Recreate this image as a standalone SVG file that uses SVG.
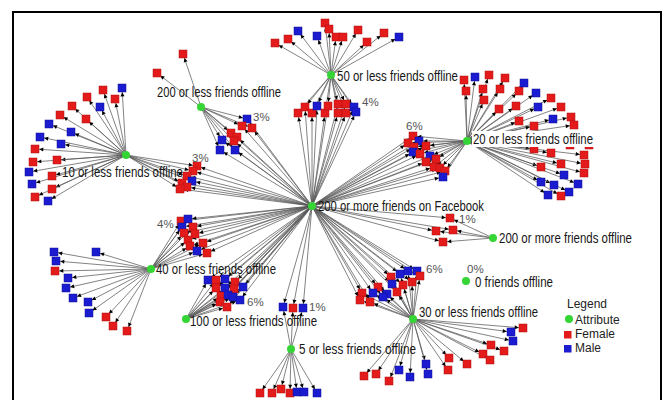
<svg xmlns="http://www.w3.org/2000/svg" xmlns:xlink="http://www.w3.org/1999/xlink" width="662" height="400" viewBox="0 0 662 400">
<style>
.e path{stroke:#5a5a5a;stroke-width:.75;fill:none;marker-end:url(#ah)}
.hub circle{fill:#36d536}
.lbl{font-family:"Liberation Sans",Arial,sans-serif;font-size:15.5px;fill:#161616}
.pc{font-family:"Liberation Sans",Arial,sans-serif;font-size:11.5px;fill:#555}
.lg{font-family:"Liberation Sans",Arial,sans-serif;font-size:12px;fill:#222}
</style>
<defs>
<marker id="ah" markerUnits="userSpaceOnUse" markerWidth="10" markerHeight="10" orient="auto" overflow="visible" refX="0" refY="0"><path d="M-4.3,0L-8.3,-2L-8.3,2Z" fill="#000"/></marker>
<rect id="r" x="-4" y="-4" width="8" height="8" fill="#e31b1b" stroke="#b01010" stroke-width=".5"/>
<rect id="b" x="-4" y="-4" width="8" height="8" fill="#1b1bd0" stroke="#10109a" stroke-width=".5"/>
</defs>
<rect width="662" height="400" fill="#fff"/>
<path d="M13 401V12H661V401" fill="none" stroke="#000" stroke-width="2"/>
<g id="connectors" class="e">
<path d="M126 155L103 90"/><path d="M126 155L122 88"/><path d="M126 155L87 97"/><path d="M126 155L115 99"/><path d="M126 155L72 106"/><path d="M126 155L100 107"/><path d="M126 155L60 115"/><path d="M126 155L86 119"/><path d="M126 155L49 124"/><path d="M126 155L71 132"/><path d="M126 155L40 137"/><path d="M126 155L61 144"/><path d="M126 155L35 149"/><path d="M126 155L57 160"/><path d="M126 155L33 162"/><path d="M126 155L29 172"/><path d="M126 155L52 176"/><path d="M126 155L32 184"/><path d="M126 155L52 189"/><path d="M126 155L35 197"/><path d="M126 155L48 201"/>
<path d="M126 155L197 166"/><path d="M126 155L193 171"/><path d="M126 155L187 176"/><path d="M126 155L192 181"/><path d="M126 155L182 183"/><path d="M126 155L187 187"/><path d="M126 155L180 189"/>
<path d="M201 107L183 54"/><path d="M201 107L157 73"/>
<path d="M201 107L247 119"/><path d="M201 107L242 126"/><path d="M201 107L252 128"/><path d="M201 107L231 133"/><path d="M201 107L237 137"/><path d="M201 107L234 141"/><path d="M201 107L222 140"/><path d="M201 107L220 150"/><path d="M201 107L235 150"/>
<path d="M331 75L275 43"/><path d="M331 75L288 39"/><path d="M331 75L298 31"/><path d="M331 75L317 36"/><path d="M331 75L325 23"/><path d="M331 75L329 29"/><path d="M331 75L336 37"/><path d="M331 75L343 37"/><path d="M331 75L358 30"/><path d="M331 75L367 42"/><path d="M331 75L384 33"/><path d="M331 75L399 37"/>
<path d="M331 75L298 113"/><path d="M331 75L305 107"/><path d="M331 75L312 113"/><path d="M331 75L317 106"/><path d="M331 75L325 113"/><path d="M331 75L328 106"/><path d="M331 75L338 104"/><path d="M331 75L338 113"/><path d="M331 75L346 104"/><path d="M331 75L346 113"/><path d="M331 75L354 107"/><path d="M331 75L356 112"/>
<path d="M467 141L464 80"/><path d="M467 141L475 77"/><path d="M467 141L489 75"/><path d="M467 141L505 78"/><path d="M467 141L466 91"/><path d="M467 141L483 89"/><path d="M467 141L484 100"/><path d="M467 141L500 89"/><path d="M467 141L519 91"/><path d="M467 141L524 83"/><path d="M467 141L499 109"/><path d="M467 141L516 106"/><path d="M467 141L536 93"/><path d="M467 141L551 98"/><path d="M467 141L538 107"/><path d="M467 141L561 107"/><path d="M467 141L519 121"/><path d="M467 141L553 119"/><path d="M467 141L571 117"/><path d="M467 141L574 125"/><path d="M467 141L534 126"/><path d="M467 141L570 145"/><path d="M467 141L589 145"/><path d="M467 141L534 149"/><path d="M467 141L551 153"/><path d="M467 141L541 167"/><path d="M467 141L561 164"/><path d="M467 141L584 155"/><path d="M467 141L585 164"/><path d="M467 141L584 173"/><path d="M467 141L564 175"/><path d="M467 141L541 182"/><path d="M467 141L554 185"/><path d="M467 141L578 184"/><path d="M467 141L569 192"/><path d="M467 141L548 195"/><path d="M467 141L561 196"/>
<path d="M467 141L413 136"/><path d="M467 141L419 141"/><path d="M467 141L408 143"/><path d="M467 141L414 147"/><path d="M467 141L426 146"/><path d="M467 141L413 152"/><path d="M467 141L420 154"/><path d="M467 141L430 156"/><path d="M467 141L426 162"/><path d="M467 141L436 159"/><path d="M467 141L434 167"/><path d="M467 141L440 168"/><path d="M467 141L445 171"/><path d="M467 141L443 177"/>
<path d="M151 269L54 252"/><path d="M151 269L96 252"/><path d="M151 269L56 261"/><path d="M151 269L55 271"/><path d="M151 269L68 278"/><path d="M151 269L66 288"/><path d="M151 269L73 298"/><path d="M151 269L88 302"/><path d="M151 269L89 313"/><path d="M151 269L106 317"/><path d="M151 269L113 326"/><path d="M151 269L127 331"/>
<path d="M151 269L181 221"/><path d="M151 269L188 219"/><path d="M151 269L182 227"/><path d="M151 269L193 227"/><path d="M151 269L184 233"/><path d="M151 269L195 234"/><path d="M151 269L188 240"/><path d="M151 269L203 243"/><path d="M151 269L190 246"/><path d="M151 269L197 251"/><path d="M151 269L207 253"/>
<path d="M186 319L208 280"/><path d="M186 319L216 280"/><path d="M186 319L225 279"/><path d="M186 319L235 282"/><path d="M186 319L243 287"/><path d="M186 319L216 288"/><path d="M186 319L225 288"/><path d="M186 319L234 289"/><path d="M186 319L221 296"/><path d="M186 319L228 295"/><path d="M186 319L233 297"/><path d="M186 319L240 300"/><path d="M186 319L220 302"/><path d="M186 319L227 307"/>
<path d="M291 349L260 393"/><path d="M291 349L272 393"/><path d="M291 349L281 389"/><path d="M291 349L290 393"/><path d="M291 349L297 392"/><path d="M291 349L304 392"/><path d="M291 349L317 393"/>
<path d="M291 349L283 307"/><path d="M291 349L293 308"/><path d="M291 349L303 308"/>
<path d="M413 319L523 328"/><path d="M413 319L511 332"/><path d="M413 319L513 341"/><path d="M413 319L491 345"/><path d="M413 319L504 351"/><path d="M413 319L483 354"/><path d="M413 319L490 360"/><path d="M413 319L467 364"/><path d="M413 319L449 358"/><path d="M413 319L448 370"/><path d="M413 319L426 364"/><path d="M413 319L428 374"/><path d="M413 319L410 377"/><path d="M413 319L399 370"/><path d="M413 319L389 381"/><path d="M413 319L376 374"/><path d="M413 319L364 376"/>
<path d="M413 319L408 271"/><path d="M413 319L417 271"/><path d="M413 319L420 276"/><path d="M413 319L400 274"/><path d="M413 319L391 277"/><path d="M413 319L412 282"/><path d="M413 319L403 285"/><path d="M413 319L392 284"/><path d="M413 319L378 287"/><path d="M413 319L397 292"/><path d="M413 319L387 294"/><path d="M413 319L373 293"/><path d="M413 319L383 297"/><path d="M413 319L362 293"/><path d="M413 319L360 300"/><path d="M413 319L370 302"/>
<path d="M493 238L450 218"/><path d="M493 238L436 231"/><path d="M493 238L453 230"/><path d="M493 238L443 242"/>
<path d="M312 206L197 166"/><path d="M312 206L193 171"/><path d="M312 206L187 176"/><path d="M312 206L192 181"/><path d="M312 206L182 183"/><path d="M312 206L187 187"/><path d="M312 206L180 189"/>
<path d="M312 206L247 119"/><path d="M312 206L242 126"/><path d="M312 206L252 128"/><path d="M312 206L231 133"/><path d="M312 206L237 137"/><path d="M312 206L234 141"/><path d="M312 206L222 140"/><path d="M312 206L220 150"/><path d="M312 206L235 150"/>
<path d="M312 206L298 113"/><path d="M312 206L305 107"/><path d="M312 206L312 113"/><path d="M312 206L317 106"/><path d="M312 206L325 113"/><path d="M312 206L328 106"/><path d="M312 206L338 104"/><path d="M312 206L338 113"/><path d="M312 206L346 104"/><path d="M312 206L346 113"/><path d="M312 206L354 107"/><path d="M312 206L356 112"/>
<path d="M312 206L413 136"/><path d="M312 206L419 141"/><path d="M312 206L408 143"/><path d="M312 206L414 147"/><path d="M312 206L426 146"/><path d="M312 206L413 152"/><path d="M312 206L420 154"/><path d="M312 206L430 156"/><path d="M312 206L426 162"/><path d="M312 206L436 159"/><path d="M312 206L434 167"/><path d="M312 206L440 168"/><path d="M312 206L445 171"/><path d="M312 206L443 177"/>
<path d="M312 206L181 221"/><path d="M312 206L188 219"/><path d="M312 206L182 227"/><path d="M312 206L193 227"/><path d="M312 206L184 233"/><path d="M312 206L195 234"/><path d="M312 206L188 240"/><path d="M312 206L203 243"/><path d="M312 206L190 246"/><path d="M312 206L197 251"/><path d="M312 206L207 253"/>
<path d="M312 206L208 280"/><path d="M312 206L216 280"/><path d="M312 206L225 279"/><path d="M312 206L235 282"/><path d="M312 206L243 287"/><path d="M312 206L216 288"/><path d="M312 206L225 288"/><path d="M312 206L234 289"/><path d="M312 206L221 296"/><path d="M312 206L228 295"/><path d="M312 206L233 297"/><path d="M312 206L240 300"/><path d="M312 206L220 302"/><path d="M312 206L227 307"/>
<path d="M312 206L283 307"/><path d="M312 206L293 308"/><path d="M312 206L303 308"/>
<path d="M312 206L450 218"/><path d="M312 206L436 231"/><path d="M312 206L453 230"/><path d="M312 206L443 242"/>
<path d="M312 206L408 271"/><path d="M312 206L417 271"/><path d="M312 206L420 276"/><path d="M312 206L400 274"/><path d="M312 206L391 277"/><path d="M312 206L412 282"/><path d="M312 206L403 285"/><path d="M312 206L392 284"/><path d="M312 206L378 287"/><path d="M312 206L397 292"/><path d="M312 206L387 294"/><path d="M312 206L373 293"/><path d="M312 206L383 297"/><path d="M312 206L362 293"/><path d="M312 206L360 300"/><path d="M312 206L370 302"/>
</g>
<g id="fan-10">
<use id="n10-1" href="#r" x="103" y="90"/><use id="n10-2" href="#b" x="122" y="88"/><use id="n10-3" href="#r" x="87" y="97"/><use id="n10-4" href="#r" x="115" y="99"/><use id="n10-5" href="#r" x="72" y="106"/><use id="n10-6" href="#b" x="100" y="107"/><use id="n10-7" href="#r" x="60" y="115"/><use id="n10-8" href="#r" x="86" y="119"/><use id="n10-9" href="#b" x="49" y="124"/><use id="n10-10" href="#b" x="71" y="132"/><use id="n10-11" href="#b" x="40" y="137"/><use id="n10-12" href="#b" x="61" y="144"/><use id="n10-13" href="#r" x="35" y="149"/><use id="n10-14" href="#r" x="57" y="160"/><use id="n10-15" href="#r" x="33" y="162"/><use id="n10-16" href="#b" x="29" y="172"/><use id="n10-17" href="#r" x="52" y="176"/><use id="n10-18" href="#b" x="32" y="184"/><use id="n10-19" href="#r" x="52" y="189"/><use id="n10-20" href="#r" x="35" y="197"/><use id="n10-21" href="#b" x="48" y="201"/>
</g>
<g id="cluster-10">
<use id="c10-1" href="#r" x="197" y="166"/><use id="c10-2" href="#r" x="193" y="171"/><use id="c10-3" href="#r" x="187" y="176"/><use id="c10-4" href="#b" x="192" y="181"/><use id="c10-5" href="#r" x="182" y="183"/><use id="c10-6" href="#r" x="187" y="187"/><use id="c10-7" href="#r" x="180" y="189"/>
</g>
<g id="fan-200less">
<use id="n200l-1" href="#r" x="183" y="54"/><use id="n200l-2" href="#r" x="157" y="73"/>
</g>
<g id="cluster-200less">
<use id="c200l-1" href="#b" x="247" y="119"/><use id="c200l-2" href="#r" x="242" y="126"/><use id="c200l-3" href="#r" x="252" y="128"/><use id="c200l-4" href="#r" x="231" y="133"/><use id="c200l-5" href="#r" x="237" y="137"/><use id="c200l-6" href="#r" x="234" y="141"/><use id="c200l-7" href="#b" x="222" y="140"/><use id="c200l-8" href="#b" x="220" y="150"/><use id="c200l-9" href="#b" x="235" y="150"/>
</g>
<g id="fan-50">
<use id="n50-1" href="#r" x="275" y="43"/><use id="n50-2" href="#r" x="288" y="39"/><use id="n50-3" href="#b" x="298" y="31"/><use id="n50-4" href="#b" x="317" y="36"/><use id="n50-5" href="#r" x="325" y="23"/><use id="n50-6" href="#r" x="329" y="29"/><use id="n50-7" href="#r" x="336" y="37"/><use id="n50-8" href="#r" x="343" y="37"/><use id="n50-9" href="#r" x="358" y="30"/><use id="n50-10" href="#r" x="367" y="42"/><use id="n50-11" href="#r" x="384" y="33"/><use id="n50-12" href="#b" x="399" y="37"/>
</g>
<g id="cluster-50">
<use id="c50-1" href="#r" x="298" y="113"/><use id="c50-2" href="#r" x="305" y="107"/><use id="c50-3" href="#r" x="312" y="113"/><use id="c50-4" href="#b" x="317" y="106"/><use id="c50-5" href="#r" x="325" y="113"/><use id="c50-6" href="#r" x="328" y="106"/><use id="c50-7" href="#r" x="338" y="104"/><use id="c50-8" href="#r" x="338" y="113"/><use id="c50-9" href="#r" x="346" y="104"/><use id="c50-10" href="#r" x="346" y="113"/><use id="c50-11" href="#b" x="354" y="107"/><use id="c50-12" href="#b" x="356" y="112"/>
</g>
<g id="fan-20">
<use id="n20-1" href="#r" x="464" y="80"/><use id="n20-2" href="#b" x="475" y="77"/><use id="n20-3" href="#r" x="489" y="75"/><use id="n20-4" href="#r" x="505" y="78"/><use id="n20-5" href="#r" x="466" y="91"/><use id="n20-6" href="#r" x="483" y="89"/><use id="n20-7" href="#r" x="484" y="100"/><use id="n20-8" href="#r" x="500" y="89"/><use id="n20-9" href="#r" x="519" y="91"/><use id="n20-10" href="#b" x="524" y="83"/><use id="n20-11" href="#r" x="499" y="109"/><use id="n20-12" href="#r" x="516" y="106"/><use id="n20-13" href="#b" x="536" y="93"/><use id="n20-14" href="#r" x="551" y="98"/><use id="n20-15" href="#b" x="538" y="107"/><use id="n20-16" href="#r" x="561" y="107"/><use id="n20-17" href="#r" x="519" y="121"/><use id="n20-18" href="#b" x="553" y="119"/><use id="n20-19" href="#r" x="571" y="117"/><use id="n20-20" href="#r" x="574" y="125"/><use id="n20-21" href="#r" x="534" y="126"/><use id="n20-22" href="#r" x="570" y="145"/><use id="n20-23" href="#r" x="589" y="145"/><use id="n20-24" href="#r" x="534" y="149"/><use id="n20-25" href="#r" x="551" y="153"/><use id="n20-26" href="#r" x="541" y="167"/><use id="n20-27" href="#r" x="561" y="164"/><use id="n20-28" href="#r" x="584" y="155"/><use id="n20-29" href="#r" x="585" y="164"/><use id="n20-30" href="#r" x="584" y="173"/><use id="n20-31" href="#b" x="564" y="175"/><use id="n20-32" href="#b" x="541" y="182"/><use id="n20-33" href="#b" x="554" y="185"/><use id="n20-34" href="#b" x="578" y="184"/><use id="n20-35" href="#b" x="569" y="192"/><use id="n20-36" href="#b" x="548" y="195"/><use id="n20-37" href="#r" x="561" y="196"/>
</g>
<g id="cluster-20">
<use id="c20-1" href="#r" x="413" y="136"/><use id="c20-2" href="#b" x="419" y="141"/><use id="c20-3" href="#r" x="408" y="143"/><use id="c20-4" href="#r" x="414" y="147"/><use id="c20-5" href="#r" x="426" y="146"/><use id="c20-6" href="#b" x="413" y="152"/><use id="c20-7" href="#r" x="420" y="154"/><use id="c20-8" href="#b" x="430" y="156"/><use id="c20-9" href="#r" x="426" y="162"/><use id="c20-10" href="#r" x="436" y="159"/><use id="c20-11" href="#r" x="434" y="167"/><use id="c20-12" href="#r" x="440" y="168"/><use id="c20-13" href="#r" x="445" y="171"/><use id="c20-14" href="#b" x="443" y="177"/>
</g>
<g id="fan-40">
<use id="n40-1" href="#b" x="54" y="252"/><use id="n40-2" href="#b" x="96" y="252"/><use id="n40-3" href="#b" x="56" y="261"/><use id="n40-4" href="#r" x="55" y="271"/><use id="n40-5" href="#b" x="68" y="278"/><use id="n40-6" href="#b" x="66" y="288"/><use id="n40-7" href="#b" x="73" y="298"/><use id="n40-8" href="#b" x="88" y="302"/><use id="n40-9" href="#b" x="89" y="313"/><use id="n40-10" href="#r" x="106" y="317"/><use id="n40-11" href="#r" x="113" y="326"/><use id="n40-12" href="#r" x="127" y="331"/>
</g>
<g id="cluster-40">
<use id="c40-1" href="#r" x="181" y="221"/><use id="c40-2" href="#b" x="188" y="219"/><use id="c40-3" href="#b" x="182" y="227"/><use id="c40-4" href="#r" x="193" y="227"/><use id="c40-5" href="#r" x="184" y="233"/><use id="c40-6" href="#r" x="195" y="234"/><use id="c40-7" href="#r" x="188" y="240"/><use id="c40-8" href="#r" x="203" y="243"/><use id="c40-9" href="#r" x="190" y="246"/><use id="c40-10" href="#b" x="197" y="251"/><use id="c40-11" href="#r" x="207" y="253"/>
</g>
<g id="cluster-100">
<use id="c100-1" href="#b" x="208" y="280"/><use id="c100-2" href="#r" x="216" y="280"/><use id="c100-3" href="#b" x="225" y="279"/><use id="c100-4" href="#r" x="235" y="282"/><use id="c100-5" href="#b" x="243" y="287"/><use id="c100-6" href="#r" x="216" y="288"/><use id="c100-7" href="#b" x="225" y="288"/><use id="c100-8" href="#r" x="234" y="289"/><use id="c100-9" href="#r" x="221" y="296"/><use id="c100-10" href="#b" x="228" y="295"/><use id="c100-11" href="#b" x="233" y="297"/><use id="c100-12" href="#b" x="240" y="300"/><use id="c100-13" href="#r" x="220" y="302"/><use id="c100-14" href="#r" x="227" y="307"/>
</g>
<g id="fan-5">
<use id="n5-1" href="#r" x="260" y="393"/><use id="n5-2" href="#r" x="272" y="393"/><use id="n5-3" href="#r" x="281" y="389"/><use id="n5-4" href="#r" x="290" y="393"/><use id="n5-5" href="#b" x="297" y="392"/><use id="n5-6" href="#b" x="304" y="392"/><use id="n5-7" href="#b" x="317" y="393"/>
</g>
<g id="cluster-5">
<use id="c5-1" href="#b" x="283" y="307"/><use id="c5-2" href="#r" x="293" y="308"/><use id="c5-3" href="#b" x="303" y="308"/>
</g>
<g id="fan-30">
<use id="n30-1" href="#r" x="523" y="328"/><use id="n30-2" href="#b" x="511" y="332"/><use id="n30-3" href="#b" x="513" y="341"/><use id="n30-4" href="#r" x="491" y="345"/><use id="n30-5" href="#r" x="504" y="351"/><use id="n30-6" href="#r" x="483" y="354"/><use id="n30-7" href="#r" x="490" y="360"/><use id="n30-8" href="#r" x="467" y="364"/><use id="n30-9" href="#r" x="449" y="358"/><use id="n30-10" href="#r" x="448" y="370"/><use id="n30-11" href="#b" x="426" y="364"/><use id="n30-12" href="#b" x="428" y="374"/><use id="n30-13" href="#b" x="410" y="377"/><use id="n30-14" href="#b" x="399" y="370"/><use id="n30-15" href="#r" x="389" y="381"/><use id="n30-16" href="#r" x="376" y="374"/><use id="n30-17" href="#r" x="364" y="376"/>
</g>
<g id="cluster-30">
<use id="c30-1" href="#b" x="408" y="271"/><use id="c30-2" href="#b" x="417" y="271"/><use id="c30-3" href="#r" x="420" y="276"/><use id="c30-4" href="#b" x="400" y="274"/><use id="c30-5" href="#r" x="391" y="277"/><use id="c30-6" href="#r" x="412" y="282"/><use id="c30-7" href="#r" x="403" y="285"/><use id="c30-8" href="#b" x="392" y="284"/><use id="c30-9" href="#r" x="378" y="287"/><use id="c30-10" href="#r" x="397" y="292"/><use id="c30-11" href="#b" x="387" y="294"/><use id="c30-12" href="#b" x="373" y="293"/><use id="c30-13" href="#b" x="383" y="297"/><use id="c30-14" href="#r" x="362" y="293"/><use id="c30-15" href="#r" x="360" y="300"/><use id="c30-16" href="#r" x="370" y="302"/>
</g>
<g id="cluster-200more">
<use id="c200m-1" href="#r" x="450" y="218"/><use id="c200m-2" href="#r" x="436" y="231"/><use id="c200m-3" href="#r" x="453" y="230"/><use id="c200m-4" href="#r" x="443" y="242"/>
</g>
<g id="hub-facebook" class="hub"><circle cx="312" cy="206" r="4"/><text class="lbl" x="318" y="211" textLength="166" lengthAdjust="spacingAndGlyphs">200 or more friends on Facebook</text></g>
<g id="hub-50" class="hub"><circle cx="331" cy="75" r="4"/><text class="lbl" x="337" y="81" textLength="121" lengthAdjust="spacingAndGlyphs">50 or less friends offline</text></g>
<g id="hub-20" class="hub"><rect x="472" y="131" width="124" height="16" fill="#fff"/><circle cx="467" cy="141" r="4"/><text class="lbl" x="473" y="144" textLength="120" lengthAdjust="spacingAndGlyphs">20 or less friends offline</text></g>
<g id="hub-200less" class="hub"><circle cx="201" cy="107" r="4"/><text class="lbl" x="157" y="97" textLength="124" lengthAdjust="spacingAndGlyphs">200 or less friends offline</text></g>
<g id="hub-10" class="hub"><circle cx="126" cy="155" r="4"/><text class="lbl" x="62" y="177" textLength="121" lengthAdjust="spacingAndGlyphs">10 or less friends offline</text></g>
<g id="hub-40" class="hub"><circle cx="151" cy="269" r="4"/><text class="lbl" x="156" y="274" textLength="120" lengthAdjust="spacingAndGlyphs">40 or less friends offline</text></g>
<g id="hub-100" class="hub"><circle cx="186" cy="319" r="4"/><text class="lbl" x="190" y="326" textLength="127" lengthAdjust="spacingAndGlyphs">100 or less friends offline</text></g>
<g id="hub-5" class="hub"><circle cx="291" cy="349" r="4"/><text class="lbl" x="299" y="354" textLength="117" lengthAdjust="spacingAndGlyphs">5 or less friends offline</text></g>
<g id="hub-30" class="hub"><circle cx="413" cy="319" r="4"/><text class="lbl" x="419" y="317" textLength="119" lengthAdjust="spacingAndGlyphs">30 or less friends offline</text></g>
<g id="hub-200more" class="hub"><circle cx="493" cy="238" r="4"/><text class="lbl" x="499" y="243" textLength="133" lengthAdjust="spacingAndGlyphs">200 or more friends offline</text></g>
<g id="hub-0" class="hub"><circle cx="466" cy="281" r="4"/><text class="lbl" x="475" y="287" textLength="78" lengthAdjust="spacingAndGlyphs">0 friends offline</text><text class="pc" x="467" y="273">0%</text></g>
<g id="percents">
<text class="pc" x="253" y="121">3%</text>
<text class="pc" x="192" y="162">3%</text>
<text class="pc" x="362" y="106">4%</text>
<text class="pc" x="406" y="130">6%</text>
<text class="pc" x="157" y="228">4%</text>
<text class="pc" x="247" y="306">6%</text>
<text class="pc" x="309" y="311">1%</text>
<text class="pc" x="459" y="223">1%</text>
<text class="pc" x="426" y="273">6%</text>
</g>
<g id="legend">
<text class="lg" x="567" y="308" fill="#333">Legend</text>
<circle cx="569" cy="319" r="4" fill="#36d536"/>
<text class="lg" x="575" y="324">Attribute</text>
<rect x="564" y="331" width="7.5" height="7.5" fill="#e31b1b"/>
<text class="lg" x="575" y="338">Female</text>
<rect x="564" y="345" width="7.5" height="7.5" fill="#1b1bd0"/>
<text class="lg" x="575" y="352">Male</text>
</g>
</svg>
